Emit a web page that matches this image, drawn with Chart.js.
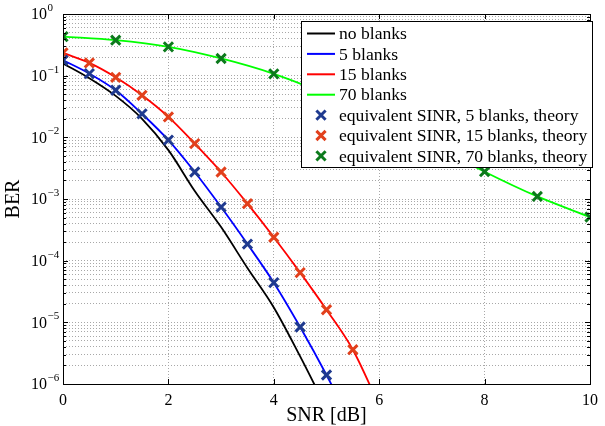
<!DOCTYPE html>
<html>
<head>
<meta charset="utf-8">
<script src="https://cdn.jsdelivr.net/npm/chart.js@4"></script>
<style>
  html, body { margin: 0; padding: 0; background: #fff; }
  #wrap { width: 605px; height: 426px; }
</style>
</head>
<body>
<div id="wrap"><canvas id="ber-chart"></canvas></div>
<script>
// simulated curves (SNR in dB, BER)
const snrSim = [0, 0.5, 1, 1.5, 2, 2.5, 3, 3.5, 4, 4.5, 5, 5.5, 6];
const berNoBlanks = [0.158, 0.091, 0.047, 0.02, 0.0062, 0.00135, 3.5e-4, 7.6e-5, 1.74e-5, 2.8e-6, 4e-7];
const ber5Blanks = [0.178, 0.108, 0.058, 0.024, 0.009, 0.00274, 7.4e-4, 1.86e-4, 4.4e-5, 8.4e-6, 1.4e-6, 2e-7];
const ber15Blanks = [0.234, 0.161, 0.094, 0.048, 0.0214, 0.0079, 0.00274, 8.4e-4, 2.4e-4, 6.4e-5, 1.6e-5, 3.6e-6, 4.5e-7];
const snr70 = [0, 1, 2, 3, 4, 5, 6, 7, 8, 9, 10];
const ber70Blanks = [0.43, 0.376, 0.293, 0.19, 0.107, 0.050, 0.021, 0.0078, 0.00277, 0.0011, 0.00051];

// theory markers
const snrTheory = [0, 0.5, 1, 1.5, 2, 2.5, 3, 3.5, 4, 4.5, 5, 5.5];
const theory5 = [0.178, 0.108, 0.058, 0.024, 0.009, 0.00274, 7.4e-4, 1.86e-4, 4.4e-5, 8.4e-6, 1.4e-6];
const theory15 = [0.234, 0.161, 0.094, 0.048, 0.0214, 0.0079, 0.00274, 8.4e-4, 2.4e-4, 6.4e-5, 1.6e-5, 3.6e-6];
const theory70 = [0.43, 0.376, 0.293, 0.19, 0.107, 0.050, 0.021, 0.0078, 0.00277, 0.0011, 0.00051];

const xTicks = [0, 2, 4, 6, 8, 10];
const yExponents = [0, -1, -2, -3, -4, -5, -6];

const FONT = "'Liberation Serif', 'Times New Roman', serif";

const pts = (xs, ys) => ys.map((y, i) => ({ x: xs[i], y: y }));

function lineSet(label, xs, ys, color) {
    return {
        label: label, data: pts(xs, ys), borderColor: color, backgroundColor: color,
        borderWidth: 1.8, pointRadius: 0, showLine: true,
        cubicInterpolationMode: 'monotone', order: 2
    };
}
function markerSet(label, xs, ys, color) {
    return {
        label: label, data: pts(xs, ys), borderColor: color, backgroundColor: color,
        pointStyle: 'crossRot', pointRadius: 6.5, pointBorderWidth: 3,
        showLine: false, order: 1
    };
}

const datasets = [
    lineSet('no blanks', snrSim, berNoBlanks, '#000000'),
    lineSet('5 blanks', snrSim, ber5Blanks, '#0000ff'),
    lineSet('15 blanks', snrSim, ber15Blanks, '#ff0000'),
    lineSet('70 blanks', snr70, ber70Blanks, '#00ff00'),
    markerSet('equivalent SINR, 5 blanks, theory', snrTheory, theory5, '#1f3a8f'),
    markerSet('equivalent SINR, 15 blanks, theory', snrTheory, theory15, '#e2401c'),
    markerSet('equivalent SINR, 70 blanks, theory', snr70, theory70, '#0c7a1c')
];

// frame, inner ticks, y labels with exponents, legend box
const matlabAxes = {
    id: 'matlabAxes',
    afterDatasetsDraw(chart) {
        const ctx = chart.ctx;
        const a = chart.chartArea;
        const xs = chart.scales.x, ys = chart.scales.y;
        ctx.save();
        ctx.strokeStyle = '#000';
        ctx.lineWidth = 1;
        ctx.beginPath();
        xTicks.forEach(v => {
            const px = Math.round(xs.getPixelForValue(v)) + 0.5;
            ctx.moveTo(px, a.bottom); ctx.lineTo(px, a.bottom - 5);
            ctx.moveTo(px, a.top); ctx.lineTo(px, a.top + 5);
        });
        yExponents.forEach(e => {
            for (let m = 1; m <= 9; m++) {
                if (e === 0 && m > 1) break;
                const py = Math.round(ys.getPixelForValue(m * Math.pow(10, e))) + 0.5;
                const len = m === 1 ? 5 : 3;
                ctx.moveTo(a.left, py); ctx.lineTo(a.left + len, py);
                ctx.moveTo(a.right, py); ctx.lineTo(a.right - len, py);
            }
        });
        ctx.stroke();
        ctx.strokeRect(Math.round(a.left) + 0.5, Math.round(a.top) + 0.5,
            Math.round(a.right - a.left), Math.round(a.bottom - a.top));

        // y tick labels 10^k
        ctx.fillStyle = '#000';
        ctx.textBaseline = 'middle';
        ctx.textAlign = 'left';
        yExponents.forEach(e => {
            const py = ys.getPixelForValue(Math.pow(10, e));
            ctx.font = '16px ' + FONT;
            ctx.fillText('10', 31, py + 1);
            const w = ctx.measureText('10').width;
            ctx.font = '11px ' + FONT;
            ctx.fillText(e === 0 ? '0' : '\u2212' + (-e), 31 + w + 0.5, py - 6);
        });

        // legend
        const lx = 301, ly = 21, lw = 291, lh = 146;
        ctx.fillStyle = '#fff';
        ctx.fillRect(lx, ly, lw, lh);
        ctx.strokeRect(lx + 0.5, ly + 0.5, lw, lh);
        chart.data.datasets.forEach((ds, i) => {
            const cy = 33.5 + i * 20.4;
            ctx.strokeStyle = ds.borderColor;
            if (ds.showLine) {
                ctx.lineWidth = 2;
                ctx.beginPath();
                ctx.moveTo(307, cy); ctx.lineTo(335, cy);
                ctx.stroke();
            } else {
                ctx.lineWidth = 3;
                const d = 4.6;
                ctx.beginPath();
                ctx.moveTo(321 - d, cy - d); ctx.lineTo(321 + d, cy + d);
                ctx.moveTo(321 - d, cy + d); ctx.lineTo(321 + d, cy - d);
                ctx.stroke();
            }
            ctx.fillStyle = '#000';
            ctx.font = '17.6px ' + FONT;
            ctx.textBaseline = 'middle';
            ctx.fillText(ds.label, 339, cy + 1);
        });
        ctx.restore();
    }
};

const ctx = document.getElementById('ber-chart').getContext('2d');
new Chart(ctx, {
    type: 'scatter',
    data: { datasets: datasets },
    plugins: [matlabAxes],
    options: {
        responsive: true,
        maintainAspectRatio: false,
        animation: false,
        layout: { padding: { left: 0, right: 9, top: 14, bottom: 0 } },
        plugins: { legend: { display: false }, tooltip: { enabled: false } },
        scales: {
            x: {
                type: 'linear', min: 0, max: 10,
                afterFit: s => { s.height = 42; },
                ticks: { stepSize: 2, color: '#000', padding: 7, font: { family: FONT, size: 16 } },
                grid: { color: '#a8a8a8', drawTicks: false, lineWidth: 1 },
                border: { display: false, dash: [1, 2] },
                title: { display: true, text: 'SNR [dB]', color: '#000', font: { family: FONT, size: 20, lineHeight: 1 }, padding: { top: 0, bottom: 0 } }
            },
            y: {
                type: 'logarithmic', min: 1e-6, max: 1,
                afterFit: s => { s.width = 63; },
                afterBuildTicks: s => {
                    const t = [];
                    yExponents.slice().reverse().forEach(e => {
                        for (let m = 1; m <= 9; m++) {
                            if (e === 0 && m > 1) break;
                            t.push({ value: m * Math.pow(10, e) });
                        }
                    });
                    s.ticks = t;
                },
                ticks: { display: false },
                grid: { color: '#a8a8a8', drawTicks: false, lineWidth: 1 },
                border: { display: false, dash: [1, 2] },
                title: { display: true, text: 'BER', color: '#000', font: { family: FONT, size: 20, lineHeight: 1 }, padding: { top: 4, bottom: 0 } }
            }
        }
    }
});
</script>
</body>
</html>
